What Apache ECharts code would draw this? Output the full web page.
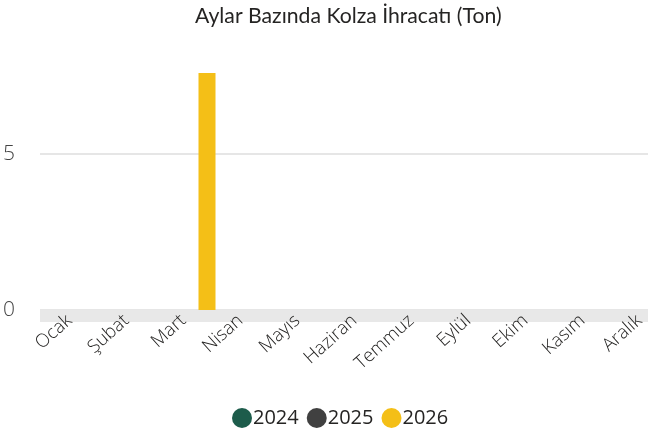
<!DOCTYPE html>
<html>
<head>
<meta charset="utf-8">
<script src="https://cdn.jsdelivr.net/npm/echarts@6/dist/echarts.min.js"></script>
<style>
  html, body { margin: 0; padding: 0; background: #fff; overflow: hidden; }
  /* the chart runs past the right edge of the window, as in the source */
  #main { width: 676px; height: 434px; }
</style>
</head>
<body>
<div id="main"></div>
<script>
// aylar (Ağustos grafikte yok)
var months = ['Ocak', 'Şubat', 'Mart', 'Nisan', 'Mayıs', 'Haziran', 'Temmuz', 'Eylül', 'Ekim', 'Kasım', 'Aralık'];
var years = ['2024', '2025', '2026'];
var values2024 = [0, 0, 0, 0, 0, 0, 0, 0, 0, 0, 0];
var values2025 = [0, 0, 0, 0, 0, 0, 0, 0, 0, 0, 0];
var values2026 = [0, 0, 7.58, 0, 0, 0, 0, 0, 0, 0, 0];
var yMin = 0, yMax = 9.8, yStep = 5;

var colors = ['#1d5c4b', '#404040', '#f4bf17'];
var font = '"Open Sans", "Noto Sans", sans-serif';

var chart = echarts.init(document.getElementById('main'));

// 0 -> y=310, 5 -> y=153.7
var plotBottom = 124;
var plotTop = 434 - plotBottom - (yMax - yMin) * 31.26;

var option = {
    animation: false,
    color: colors,
    title: {
        text: 'Aylar Bazında Kolza İhracatı (Ton)',
        left: 190,
        top: 1,
        textStyle: { fontFamily: 'Lato, "Open Sans", sans-serif', fontSize: 21.2, fontWeight: 'normal', color: '#252423' }
    },
    legend: {
        data: years,
        left: 227,
        top: 403,
        icon: 'circle',
        itemWidth: 20,
        itemHeight: 20,
        itemGap: 8,
        textStyle: { fontFamily: font, fontSize: 20, color: '#252423', padding: [0, 0, 0, -4] }
    },
    grid: [
        // arka plan: y ekseni, ızgara çizgisi, gri bant
        { left: 40, right: 0, top: plotTop, bottom: plotBottom },
        // sütunlar
        { left: 47.5, right: 1.5, top: plotTop, bottom: plotBottom }
    ],
    xAxis: [
        {
            gridIndex: 0,
            type: 'value',
            min: 0,
            max: 1,
            offset: 6,
            axisLine: { show: true, onZero: false, lineStyle: { color: '#e8e8e8', width: 12, cap: 'butt' } },
            axisTick: { show: false },
            axisLabel: { show: false },
            splitLine: { show: false }
        },
        {
            gridIndex: 1,
            type: 'category',
            data: months,
            axisLine: { show: false },
            axisTick: { show: false },
            axisLabel: {
                rotate: 42,
                margin: 2,
                padding: [0, 9, 0, 0],
                interval: 0,
                fontFamily: font,
                fontSize: 18.5,
                fontWeight: 300,
                color: '#252423'
            }
        }
    ],
    yAxis: [
        {
            gridIndex: 0,
            type: 'value',
            min: yMin,
            max: yMax,
            interval: yStep,
            axisLine: { show: false },
            axisTick: { show: false },
            axisLabel: {
                showMaxLabel: false,
                margin: 25,
                fontFamily: font,
                fontSize: 21,
                fontWeight: 300,
                color: '#444444'
            },
            splitLine: { showMaxLine: false, lineStyle: { color: '#e6e6e6', width: 2 } }
        },
        {
            gridIndex: 1,
            type: 'value',
            min: yMin,
            max: yMax,
            show: false
        }
    ],
    series: [
        { name: '2024', type: 'bar', xAxisIndex: 1, yAxisIndex: 1, barWidth: 17, barGap: 0, data: values2024 },
        { name: '2025', type: 'bar', xAxisIndex: 1, yAxisIndex: 1, barWidth: 17, barGap: 0, data: values2025 },
        { name: '2026', type: 'bar', xAxisIndex: 1, yAxisIndex: 1, barWidth: 17, barGap: 0, data: values2026 }
    ]
};

chart.setOption(option);
</script>
</body>
</html>
